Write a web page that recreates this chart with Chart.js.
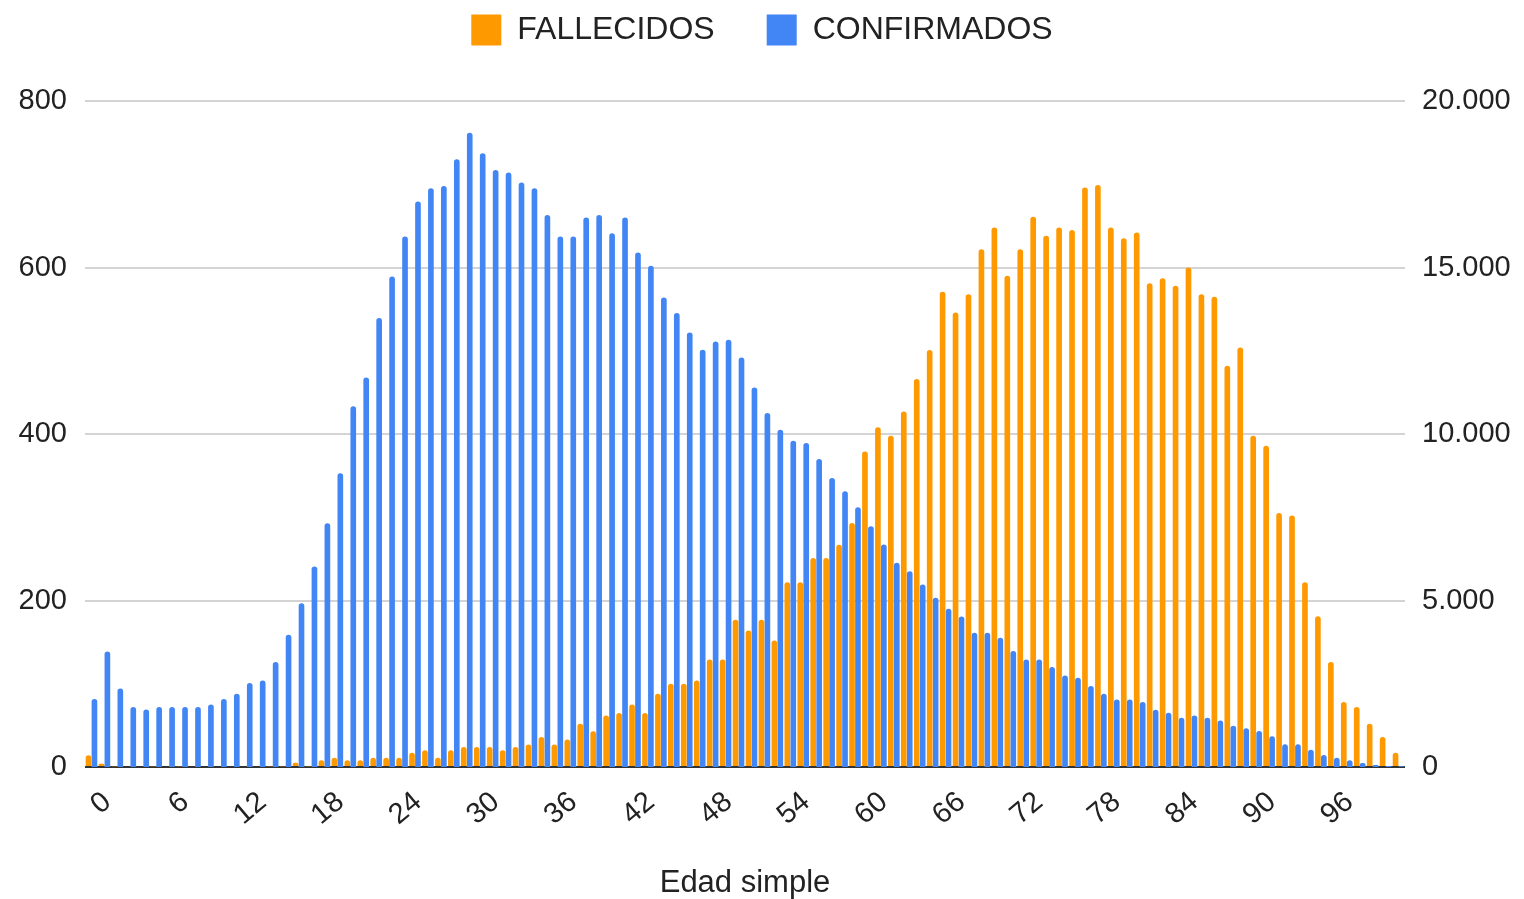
<!DOCTYPE html>
<html lang="es">
<head>
<meta charset="utf-8">
<title>Fallecidos y confirmados por edad simple</title>
<script src="https://cdn.jsdelivr.net/npm/chart.js@4.4.1/dist/chart.umd.min.js"></script>
<style>
  html, body { margin: 0; padding: 0; background: #fff; }
  #wrap { width: 1524px; height: 899px; position: relative; }
</style>
</head>
<body>
<div id="wrap"><canvas id="chart"></canvas></div>
<script>
// Edades 0..101
const edades = Array.from({ length: 102 }, (_, i) => String(i));

// Fallecidos por edad (eje izquierdo)
const fallecidos = [
  14, 4, 1, 0, 0, 1, 0, 1, 0, 0,
  0, 0, 0, 0, 1, 1, 5, 1, 8, 11,
  8, 8, 11, 11, 11, 17, 20, 11, 20, 24,
  24, 24, 20, 24, 27, 36, 27, 33, 52, 43,
  62, 65, 75, 65, 88, 100, 100, 104, 129, 129,
  177, 164, 177, 152, 222, 222, 251, 251, 267, 293,
  379, 408, 398, 427, 466, 501, 571, 546, 568, 622,
  648, 590, 622, 661, 638, 648, 645, 696, 699, 648,
  635, 642, 581, 587, 578, 600, 568, 565, 482, 504,
  398, 386, 305, 302, 222, 181, 126, 78, 72, 52,
  36, 17
];

// Confirmados por edad (eje derecho)
const confirmados = [
  2040, 3470, 2360, 1800, 1730, 1800, 1800, 1800, 1800, 1880,
  2040, 2200, 2520, 2600, 3150, 3970, 4920, 6020, 7320, 8820,
  10830, 11700, 13480, 14730, 15930, 16980, 17380, 17450, 18250, 19050,
  18430, 17930, 17850, 17550, 17380, 16580, 15930, 15930, 16500, 16580,
  16030, 16500, 15450, 15050, 14100, 13630, 13050, 12530, 12780, 12830,
  12300, 11400, 10630, 10130, 9800, 9730, 9250, 8680, 8280, 7800,
  7230, 6680, 6130, 5880, 5480, 5080, 4750, 4520, 4030, 4030,
  3880, 3480, 3230, 3230, 3000, 2750, 2680, 2430, 2200, 2030,
  2030, 1950, 1720, 1630, 1480, 1550, 1480, 1400, 1240, 1160,
  1080, 920, 680, 680, 520, 360, 280, 200, 120, 60,
  30, 20
];

const leftTicks = [0, 200, 400, 600, 800];
const rightTicks = [0, 5000, 10000, 15000, 20000];

const FONT = 'Liberation Sans, Arial, sans-serif';
const TEXT = '#222222';

function miles(v) {
  return String(v).replace(/\B(?=(\d{3})+(?!\d))/g, '.');
}

// leave some room between the legend and the plot
const legendSpacer = {
  id: 'legendSpacer',
  beforeInit(chart) {
    const fit = chart.legend.fit;
    chart.legend.fit = function () {
      fit.bind(chart.legend)();
      this.height += 45;
    };
  }
};

const ctx = document.getElementById('chart').getContext('2d');
new Chart(ctx, {
  type: 'bar',
  data: {
    labels: edades,
    datasets: [
      {
        label: 'FALLECIDOS',
        data: fallecidos,
        backgroundColor: '#ff9900',
        yAxisID: 'yLeft',
        borderRadius: 3,
        borderSkipped: 'start',
        categoryPercentage: 0.92,
        barPercentage: 0.95
      },
      {
        label: 'CONFIRMADOS',
        data: confirmados,
        backgroundColor: '#4285f4',
        yAxisID: 'yRight',
        borderRadius: 3,
        borderSkipped: 'start',
        categoryPercentage: 0.92,
        barPercentage: 0.95
      }
    ]
  },
  plugins: [legendSpacer],
  options: {
    responsive: true,
    maintainAspectRatio: false,
    animation: false,
    layout: { padding: { top: -38, left: 0, right: 0, bottom: 0 } },
    plugins: {
      legend: {
        position: 'top',
        labels: {
          font: { family: FONT, size: 32 },
          color: TEXT,
          boxWidth: 30,
          boxHeight: 31,
          padding: 52
        }
      },
      tooltip: { enabled: false }
    },
    scales: {
      x: {
        grid: { display: false },
        border: { display: false },
        ticks: {
          autoSkip: false,
          minRotation: 40,
          maxRotation: 40,
          labelOffset: 16,
          padding: 10,
          color: TEXT,
          font: { family: FONT, size: 29 },
          callback: (v, i) => (i % 6 === 0 ? edades[i] : '')
        },
        title: {
          display: true,
          text: 'Edad simple',
          color: TEXT,
          font: { family: FONT, size: 31 },
          padding: { top: 0, bottom: -3 }
        },
        afterFit: (s) => { s.height = 132; }
      },
      yLeft: {
        position: 'left',
        min: 0,
        max: 800,
        afterBuildTicks: (s) => { s.ticks = leftTicks.map(v => ({ value: v })); },
        ticks: {
          padding: 18,
          color: TEXT,
          font: { family: FONT, size: 29 }
        },
        grid: {
          color: (c) => (c.tick && c.tick.value === 0 ? '#333333' : '#d4d4d4'),
          lineWidth: 2,
          drawTicks: false
        },
        border: { display: false },
        afterFit: (s) => { s.width = 85; }
      },
      yRight: {
        position: 'right',
        min: 0,
        max: 20000,
        afterBuildTicks: (s) => { s.ticks = rightTicks.map(v => ({ value: v })); },
        ticks: {
          padding: 17,
          color: TEXT,
          font: { family: FONT, size: 29 },
          callback: (v) => miles(v)
        },
        grid: { display: false, drawTicks: false },
        border: { display: false },
        afterFit: (s) => { s.width = 119; }
      }
    }
  }
});
</script>
</body>
</html>
